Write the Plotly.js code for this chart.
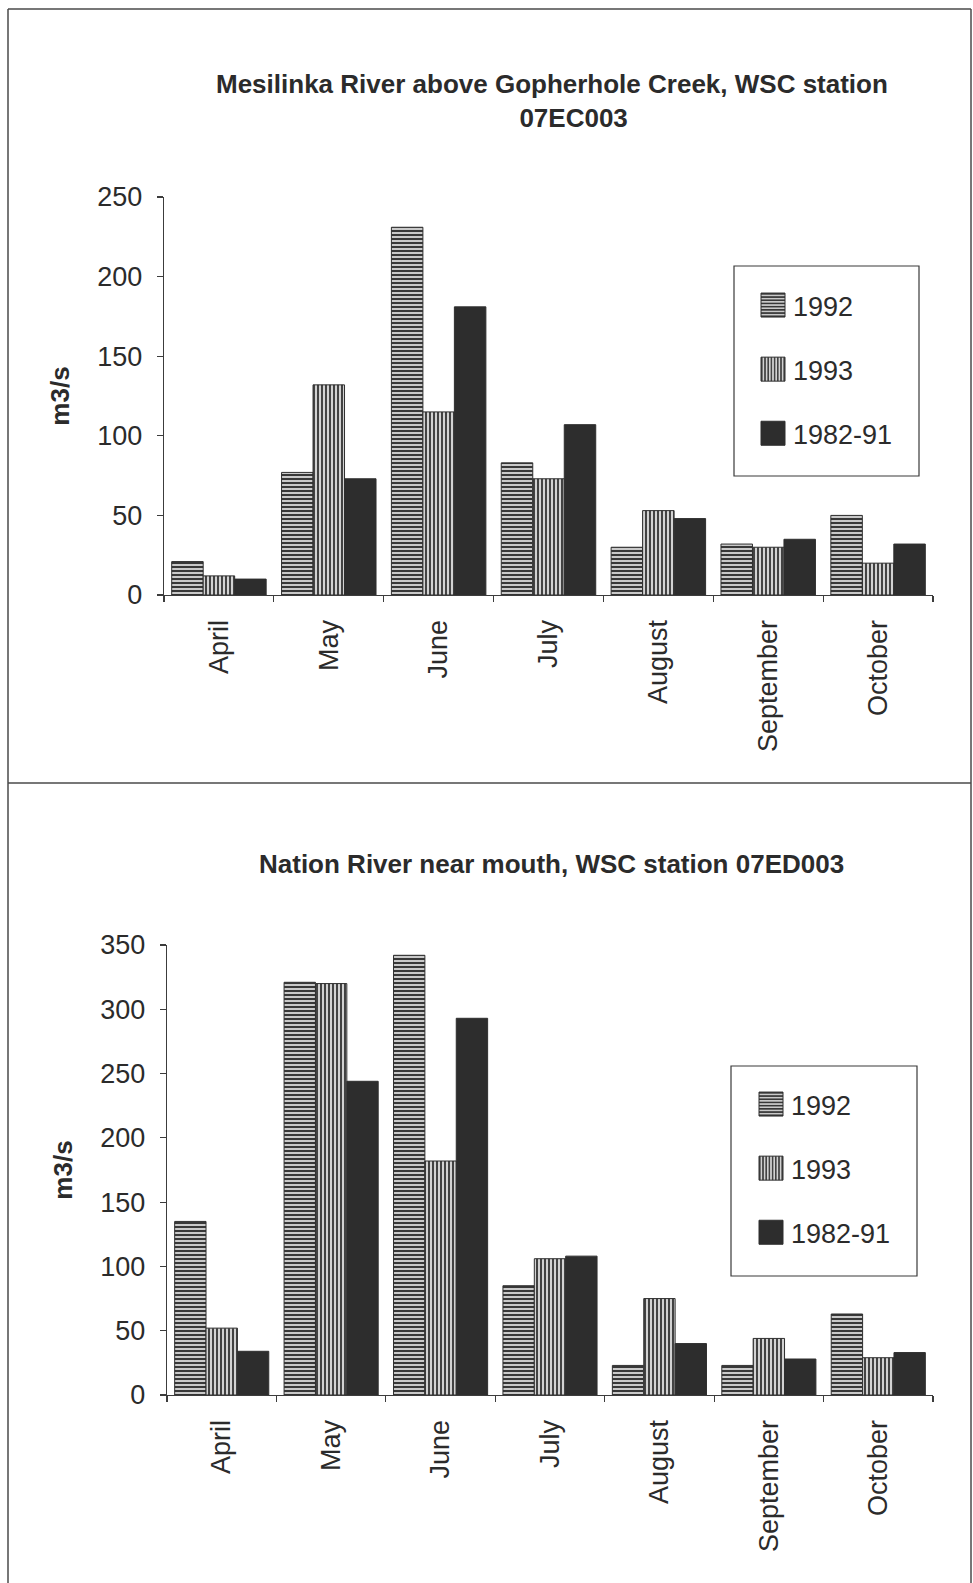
<!DOCTYPE html>
<html>
<head>
<meta charset="utf-8">
<script src="https://cdn.plot.ly/plotly-3.0.1.min.js"></script>
<style>
  html, body { margin: 0; padding: 0; background: #fff; }
  #chart { width: 973px; height: 1583px; }
</style>
</head>
<body>
<div id="chart"></div>
<script>
// Monthly mean discharge (m3/s), two WSC stations
const months = ['April', 'May', 'June', 'July', 'August', 'September', 'October'];
const seriesNames = ['1992', '1993', '1982-91'];

// Mesilinka River above Gopherhole Creek (07EC003)
const mesilinka1992 = [21, 77, 231, 83, 30, 32, 50];
const mesilinka1993 = [12, 132, 115, 73, 53, 30, 20];
const mesilinkaMean = [10, 73, 181, 107, 48, 35, 32];

// Nation River near mouth (07ED003)
const nation1992 = [135, 321, 342, 85, 23, 23, 63];
const nation1993 = [52, 320, 182, 106, 75, 44, 29];
const nationMean = [34, 244, 293, 108, 40, 28, 33];

const titleTop = 'Mesilinka River above Gopherhole Creek, WSC station<br>&nbsp;&nbsp;&nbsp;&nbsp;&nbsp;&nbsp;07EC003';
const titleBottom = 'Nation River near mouth, WSC station 07ED003';
const yTitle = 'm3/s';

const W = 973, H = 1583;
const px = v => v / W;          // pixel x -> paper x
const py = v => 1 - v / H;      // pixel y -> paper y

const ink = '#2b2b2b';
const axisInk = '#3c3c3c';

const styles = [
  { pattern: { shape: '-', fgcolor: '#383838', bgcolor: '#c9c9c9', size: 4, solidity: 0.5 }, color: '#c9c9c9' },
  { pattern: { shape: '|', fgcolor: '#3c3c3c', bgcolor: '#d2d2d2', size: 4, solidity: 0.48 }, color: '#d2d2d2' },
  { pattern: null, color: '#2d2d2d' }
];

function makeTraces(valueSets, xa, ya, legendId, groupPrefix) {
  return valueSets.map((vals, i) => {
    const marker = { color: styles[i].color, line: { color: '#2f2f2f', width: 1 } };
    if (styles[i].pattern) marker.pattern = styles[i].pattern;
    return {
      type: 'bar',
      name: seriesNames[i],
      x: months,
      y: vals,
      xaxis: xa,
      yaxis: ya,
      legend: legendId,
      legendgroup: groupPrefix + i,
      marker: marker
    };
  });
}

const traces = [
  ...makeTraces([mesilinka1992, mesilinka1993, mesilinkaMean], 'x', 'y', 'legend', 'top'),
  ...makeTraces([nation1992, nation1993, nationMean], 'x2', 'y2', 'legend2', 'bot')
];

const tickFont = { size: 27, color: ink };

function catAxis(domain, anchor) {
  return {
    domain: domain, anchor: anchor, type: 'category',
    range: [-0.5, 6.5],
    showline: true, linecolor: axisInk, linewidth: 1.2,
    ticks: 'outside', ticklen: 6, tickcolor: axisInk, tickwidth: 1.2,
    tickson: 'boundaries', tickangle: -90, tickfont: tickFont,
    ticklabelstandoff: 13,
    showgrid: false, zeroline: false
  };
}
function valAxis(domain, anchor, maxVal) {
  return {
    domain: domain, anchor: anchor, range: [0, maxVal], dtick: 50,
    showline: true, linecolor: axisInk, linewidth: 1.2,
    ticks: 'outside', ticklen: 6, tickcolor: axisInk, tickwidth: 1.2,
    tickfont: tickFont, ticklabelstandoff: 9,
    showgrid: false, zeroline: false,
    title: { text: yTitle, font: { size: 26, weight: 'bold', color: ink }, standoff: 20 }
  };
}
// overlay axes carry the inner half of each crossing tick mark
function innerX(over, anchor) {
  return {
    overlaying: over, anchor: anchor, range: [-0.5, 6.5], tick0: -0.5, dtick: 1,
    ticks: 'inside', ticklen: 6, tickcolor: axisInk, tickwidth: 1.2,
    showticklabels: false, showline: false, showgrid: false, zeroline: false
  };
}
function innerY(over, anchor, maxVal) {
  return {
    overlaying: over, anchor: anchor, range: [0, maxVal], dtick: 50,
    ticks: 'inside', ticklen: 6, tickcolor: axisInk, tickwidth: 1.2,
    showticklabels: false, showline: false, showgrid: false, zeroline: false
  };
}

const topX = [px(164), px(933)];
const topY = [py(595), py(197)];
const botX = [px(167), px(933)];
const botY = [py(1395), py(945)];

const frameLine = { color: '#4a4a4a', width: 1.5 };
const boxLine = { color: '#3a3a3a', width: 1.2 };

const layout = {
  width: W, height: H,
  margin: { l: 0, r: 0, t: 0, b: 0 },
  paper_bgcolor: '#ffffff', plot_bgcolor: 'rgba(0,0,0,0)',
  font: { family: 'Liberation Sans, Arial, sans-serif', color: ink },
  barmode: 'group', bargap: 0.14, bargroupgap: 0,
  hovermode: false,
  xaxis: catAxis(topX, 'y'),
  yaxis: valAxis(topY, 'x', 250),
  xaxis2: catAxis(botX, 'y2'),
  yaxis2: valAxis(botY, 'x2', 350),
  xaxis3: innerX('x', 'y'),
  yaxis3: innerY('y', 'x', 250),
  xaxis4: innerX('x2', 'y2'),
  yaxis4: innerY('y2', 'x2', 350),
  legend: {
    x: px(753), xanchor: 'left', y: py(281), yanchor: 'top',
    bgcolor: 'rgba(0,0,0,0)', borderwidth: 0,
    font: { size: 27, color: ink }, traceorder: 'grouped', tracegroupgap: 26
  },
  legend2: {
    x: px(751), xanchor: 'left', y: py(1080), yanchor: 'top',
    bgcolor: 'rgba(0,0,0,0)', borderwidth: 0,
    font: { size: 27, color: ink }, traceorder: 'grouped', tracegroupgap: 26
  },
  annotations: [
    { text: titleTop, xref: 'paper', yref: 'paper', x: px(552), y: py(101),
      xanchor: 'center', yanchor: 'middle', showarrow: false,
      font: { size: 26, weight: 'bold', color: ink } },
    { text: titleBottom, xref: 'paper', yref: 'paper', x: px(551), y: py(864),
      xanchor: 'center', yanchor: 'middle', showarrow: false,
      font: { size: 26, weight: 'bold', color: ink } }
  ],
  shapes: [
    // page frame and panel divider
    { type: 'line', xref: 'paper', yref: 'paper', x0: px(8), x1: px(971), y0: py(9), y1: py(9), line: frameLine },
    { type: 'line', xref: 'paper', yref: 'paper', x0: px(8), x1: px(8), y0: py(9), y1: 0, line: frameLine },
    { type: 'line', xref: 'paper', yref: 'paper', x0: px(971), x1: px(971), y0: py(9), y1: 0, line: frameLine },
    { type: 'line', xref: 'paper', yref: 'paper', x0: px(8), x1: px(971), y0: py(783), y1: py(783), line: frameLine },
    // legend boxes
    { type: 'rect', xref: 'paper', yref: 'paper', x0: px(734), x1: px(919), y0: py(476), y1: py(266), line: boxLine, fillcolor: 'rgba(0,0,0,0)' },
    { type: 'rect', xref: 'paper', yref: 'paper', x0: px(731), x1: px(917), y0: py(1276), y1: py(1066), line: boxLine, fillcolor: 'rgba(0,0,0,0)' }
  ]
};

Plotly.newPlot('chart', traces, layout, { displayModeBar: false, staticPlot: true }).then(gd => {
  // enlarge the legend swatches in both legends
  gd.querySelectorAll('.legendpoints path').forEach(p => {
    p.setAttribute('d', 'M12,12H-12V-12H12Z');
  });
});
</script>
</body>
</html>
